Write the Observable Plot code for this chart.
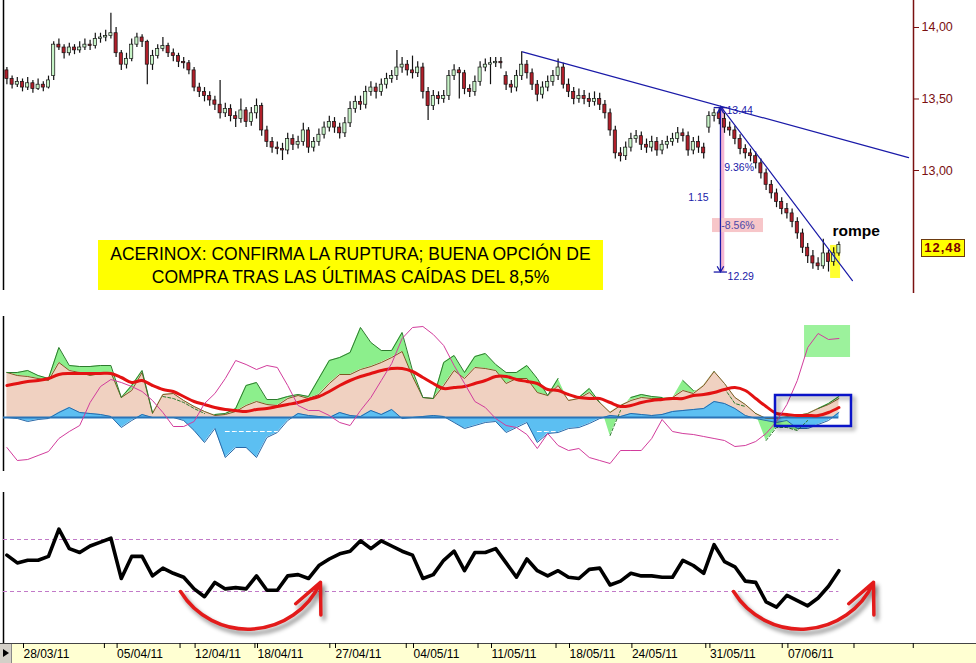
<!DOCTYPE html>
<html><head><meta charset="utf-8">
<script src="https://cdn.jsdelivr.net/npm/d3@7"></script>
<script src="https://cdn.jsdelivr.net/npm/@observablehq/plot@0.6"></script>
<style>
body{margin:0;background:#fff;font-family:"Liberation Sans",Arial,sans-serif}
#wrap{position:relative;width:976px;height:663px;overflow:hidden;background:#fff}
.panel{position:absolute;left:0}
#band{position:absolute;left:0;top:643px;width:976px;height:20px;background:#ffffd2;border-top:1px solid #444;box-sizing:border-box}
#btn{position:absolute;left:0;top:644px;width:11px;height:19px;background:#d4d0c8;border-right:1px solid #888}
#btn:after{content:"";position:absolute;left:3px;top:5px;border-left:6px solid #000;border-top:4px solid transparent;border-bottom:4px solid transparent}
#note{position:absolute;left:98px;top:240px;width:505px;height:50px;background:#ffff00;text-align:center;font-size:17.5px;line-height:23px;padding-top:3px;box-sizing:border-box;color:#000;white-space:nowrap}
#tag{position:absolute;left:921px;width:44px;height:18px;background:#ffff00;border:1px solid #6b3a10;box-sizing:border-box;font-weight:bold;font-size:13px;letter-spacing:1px;color:#7a0000;text-align:center;line-height:16px}
</style></head><body><div id="wrap"><div id="band"></div><div id="btn"></div></div>
<script>
// ---------- price candles (3 per trading day) ----------
const openP = [
13.70,13.64,13.60,13.62,13.58,13.61,13.57,13.60,13.58,13.66,
13.88,13.86,13.82,13.86,13.84,13.86,13.88,13.87,13.92,13.93,
13.94,13.96,13.82,13.74,13.78,13.88,13.93,13.90,13.74,13.80,
13.85,13.87,13.82,13.80,13.76,13.75,13.70,13.58,13.55,13.52,
13.49,13.46,13.40,13.43,13.38,13.36,13.42,13.34,13.40,13.45,
13.28,13.20,13.16,13.15,13.14,13.22,13.18,13.20,13.28,13.16,
13.20,13.25,13.30,13.34,13.30,13.26,13.33,13.43,13.48,13.46,
13.55,13.58,13.55,13.60,13.64,13.66,13.72,13.74,13.70,13.68,
13.72,13.55,13.45,13.52,13.50,13.52,13.66,13.70,13.68,13.57,
13.55,13.62,13.72,13.74,13.75,13.76,13.66,13.60,13.58,13.66,
13.74,13.68,13.60,13.53,13.58,13.62,13.66,13.72,13.60,13.55,
13.50,13.52,13.50,13.48,13.50,13.46,13.40,13.28,13.12,13.10,
13.16,13.22,13.24,13.18,13.16,13.20,13.14,13.18,13.20,13.22,
13.26,13.24,13.14,13.20,13.16,13.30,13.38,13.40,13.36,13.30,
13.28,13.22,13.15,13.12,13.10,13.05,12.98,12.90,12.84,12.78,
12.73,12.70,12.64,12.56,12.46,12.40,12.35,12.33,12.42,12.36,
12.42];
const highP = [
13.72,13.66,13.65,13.64,13.65,13.63,13.64,13.62,13.66,13.90,
13.92,13.88,13.89,13.88,13.90,13.92,13.91,13.96,13.96,13.98,
14.10,14.00,13.84,13.82,13.92,13.96,13.95,13.91,13.84,13.88,
13.93,13.89,13.85,13.82,13.79,13.77,13.72,13.61,13.58,13.55,
13.52,13.63,13.47,13.46,13.41,13.50,13.44,13.44,13.50,13.47,
13.31,13.23,13.20,13.19,13.26,13.25,13.24,13.33,13.30,13.23,
13.29,13.34,13.38,13.37,13.33,13.37,13.48,13.52,13.52,13.59,
13.62,13.61,13.64,13.68,13.70,13.84,13.79,13.77,13.80,13.76,
13.75,13.58,13.56,13.55,13.56,13.70,13.74,13.72,13.70,13.60,
13.66,13.76,13.78,13.79,13.79,13.79,13.69,13.63,13.70,13.83,
13.77,13.71,13.63,13.62,13.66,13.70,13.78,13.75,13.64,13.58,
13.57,13.56,13.54,13.55,13.54,13.49,13.43,13.31,13.16,13.20,
13.26,13.28,13.27,13.22,13.24,13.23,13.21,13.24,13.26,13.30,
13.29,13.27,13.23,13.24,13.19,13.41,13.43,13.44,13.40,13.34,
13.31,13.25,13.18,13.15,13.13,13.08,13.01,12.93,12.87,12.81,
12.77,12.73,12.67,12.59,12.49,12.44,12.39,12.52,12.44,12.46,
12.50];
const lowP = [
13.60,13.57,13.58,13.55,13.56,13.54,13.56,13.55,13.57,13.63,
13.84,13.78,13.80,13.81,13.82,13.84,13.84,13.85,13.89,13.90,
13.92,13.79,13.70,13.71,13.76,13.86,13.86,13.60,13.70,13.78,
13.83,13.79,13.76,13.72,13.71,13.67,13.55,13.51,13.48,13.45,
13.42,13.36,13.37,13.34,13.30,13.33,13.30,13.31,13.36,13.24,
13.16,13.12,13.11,13.07,13.11,13.14,13.15,13.17,13.12,13.13,
13.17,13.22,13.27,13.26,13.22,13.23,13.30,13.40,13.42,13.43,
13.52,13.50,13.52,13.57,13.61,13.63,13.68,13.66,13.64,13.65,
13.50,13.35,13.42,13.46,13.47,13.49,13.63,13.50,13.53,13.51,
13.52,13.59,13.69,13.60,13.72,13.71,13.56,13.54,13.55,13.63,
13.64,13.56,13.48,13.50,13.55,13.59,13.63,13.57,13.51,13.46,
13.47,13.46,13.44,13.45,13.42,13.36,13.24,13.08,13.06,13.07,
13.13,13.19,13.14,13.12,13.13,13.10,13.11,13.15,13.17,13.19,
13.20,13.10,13.11,13.12,13.08,13.26,13.34,13.32,13.26,13.24,
13.18,13.11,13.08,13.06,13.01,12.94,12.86,12.80,12.74,12.69,
12.66,12.60,12.52,12.42,12.35,12.31,12.30,12.31,12.29,12.33,
12.40];
const closeP = [
13.64,13.60,13.62,13.58,13.61,13.57,13.60,13.58,13.63,13.88,
13.86,13.82,13.86,13.84,13.86,13.88,13.87,13.92,13.93,13.94,
13.96,13.82,13.74,13.78,13.88,13.93,13.90,13.74,13.80,13.85,
13.87,13.82,13.80,13.76,13.75,13.70,13.58,13.55,13.52,13.49,
13.46,13.40,13.43,13.38,13.36,13.42,13.34,13.40,13.45,13.28,
13.20,13.16,13.15,13.14,13.22,13.18,13.20,13.28,13.16,13.20,
13.25,13.30,13.34,13.30,13.26,13.33,13.43,13.48,13.46,13.55,
13.58,13.55,13.60,13.64,13.66,13.72,13.74,13.70,13.68,13.72,
13.55,13.45,13.52,13.50,13.52,13.66,13.70,13.68,13.57,13.55,
13.62,13.72,13.74,13.75,13.76,13.75,13.60,13.58,13.66,13.74,
13.68,13.60,13.53,13.58,13.62,13.66,13.72,13.60,13.55,13.50,
13.52,13.50,13.48,13.50,13.46,13.40,13.28,13.12,13.10,13.16,
13.22,13.24,13.18,13.16,13.20,13.14,13.18,13.20,13.22,13.26,
13.24,13.14,13.20,13.16,13.12,13.38,13.40,13.36,13.30,13.28,
13.22,13.15,13.12,13.10,13.05,12.98,12.90,12.84,12.78,12.73,
12.70,12.64,12.56,12.46,12.40,12.35,12.33,12.42,12.36,12.42,
12.48];

// ---------- middle indicator (one sample every 2 candles) ----------
const oscMA = [32,34,36,37,39,43,44,44,44,44, 44,40,35,37,32,28,26,21,16,13, 10,8,7,6,8,9,11,13,15,18,
 21,26,32,37,41,44,47,49,49,46, 40,34,29,30,31,34,37,41,41,38, 36,34,28,27,23,20,19,19,15,11,
 12,15,17,18,19,19,22,23,25,28, 30,27,19,11,4,3,2,2,2,5, 10];
const oscBrown = [45,42,41,39,37,55,47,45,42,44, 45,20,27,45,4,23,24,17,11,6, 2,3,6,12,16,13,12,19,22,19,
 23,34,43,43,48,51,55,60,66,41, 20,19,32,47,39,50,49,47,34,39, 39,25,22,32,17,19,25,15,5,12,
 17,20,19,19,20,27,24,32,46,34, 20,13,4,-1,-1,1,2,4,9,13, 19];
const oscGreen = [45,45,47,42,39,70,52,51,51,52, 52,20,32,47,5,21,19,15,9,4, 3,4,9,32,35,18,18,21,23,21,
 39,57,60,65,90,75,67,67,85,47, 20,19,55,62,45,61,64,53,45,45, 52,39,22,39,16,20,29,15,-18,7,
 20,23,21,20,19,37,27,27,46,29, 14,11,4,-23,-10,-10,-13,-3,9,14, 21];
const oscBlue = [0,-1,-4,-2,-1,5,10,5,4,3, 1,-10,-3,3,0,0,0,-3,-13,-25, -11,-40,-30,-30,-40,-20,-15,-3,4,2,
 1,0,5,2,1,7,3,8,-1,0, 1,2,1,-5,-11,-8,-5,-4,-15,-10, -5,-25,-16,-15,-11,-10,-6,-1,2,1,
 4,3,2,3,6,7,8,9,16,14, 9,2,-1,-3,-5,-3,-11,-11,-7,-3, 5];
const oscMagenta = [-30,-43,-42,-38,-34,-21,-14,-8,15,31, 38,35,31,26,17,5,-9,-9,-4,14, 24,39,57,53,48,52,50,32,12,7,
 7,2,-5,-8,7,20,37,54,79,90, 91,83,72,52,34,16,10,-1,-8,-10, -17,-31,-16,-28,-33,-31,-40,-43,-46,-33,
 -33,-33,-21,-2,-14,-16,-17,-19,-21,-23, -29,-28,-24,-16,-4,13,37,70,84,78, 79];

// ---------- bottom oscillator ----------
const rsi = [58,52,54,54,57,78,63,60,65,68, 71,40,57,57,42,48,44,41,32,26, 37,32,33,32,42,31,31,42,43,40,
 50,55,59,61,69,63,69,65,61,58, 40,43,54,61,46,60,60,63,52,41, 55,46,42,46,41,40,47,48,35,38,
 44,42,42,41,41,54,50,44,66,53, 49,38,37,22,18,27,23,19,25,34, 46];
const rsiLevels = [30, 70];

// ---------- axes ----------
const tickDays = [0,6,11,15,20,25,30,35,39,44,49];
const tickLabels = ["28/03/11","05/04/11","12/04/11","18/04/11","27/04/11","04/05/11","11/05/11","18/05/11","24/05/11","31/05/11","07/06/11"];
const minorTickDays = [5.25,10.1,14.9,19.7,24.6,29.2,34.2,43.8,48.7,53.3,57.1];
const priceTicks = [13, 13.5, 14];

// ---------- annotations (data units: trading day, price / indicator value) ----------
const trendLines = [
  [{t:32.05,p:13.83},{t:56.8,p:13.09}],
  [{t:44.74,p:13.45},{t:53.2,p:12.23}]
];
const ruler = {t:44.74, top:13.44, bottom:12.29};
const rulerLabelsStart = [
  {t:45.13,p:13.42,s:"13.44"},
  {t:45.2,p:12.26,s:"12.29"},
  {t:44.98,p:13.02,s:"9.36%"}
];
const rulerLabelsMid = [{t:43.33,p:12.81,s:"1.15"}];
const pctBox = {t1:44.23,t2:47.5,p1:12.566,p2:12.664,s:"-8.56%"};
const breakHighlight = {t1:51.8,t2:52.44,p1:12.245,p2:12.476};
const breakLabel = {t:51.92,p:12.58,s:"rompe"};
const blueBox = {t1:48.27,t2:53.14,v1:-9,v2:22};
const greenBox = {t1:50.13,t2:53.08,v1:60,v2:92};
const arcs = [{t1:10.13,r1:30,t2:19.1,r2:37},{t1:45.58,r1:30,t2:54.55,r2:37}];

// ---------- scales ----------
const xDomain = [-1.218, 57.115];
const W = 976, ML = 3, MR = 63;
const ct = j => -1 + j/3;        // candle -> day
const kt = k => -1 + 2*k/3;      // indicator sample -> day
const idx = d3.range(closeP.length);
const kIdx = d3.range(oscMA.length);
const lastT = kt(kIdx.length - 1);
const baseStyle = {background:"transparent", overflow:"visible", fontFamily:"Liberation Sans, Arial, sans-serif"};
const blue = "#1a1aa8";

const topPlot = Plot.plot({
  width:W, height:296, marginTop:0, marginBottom:0, marginLeft:ML, marginRight:MR,
  style: baseStyle, color:{type:"identity"},
  x:{domain:xDomain, axis:null},
  y:{domain:[12.1189, 14.1888], axis:null},
  marks:[
    Plot.ruleX([xDomain[0]], {stroke:"#000", strokeWidth:1.5, insetBottom:6}),
    Plot.ruleX([xDomain[1]], {stroke:"#7a1010", strokeWidth:1.5, insetBottom:3}),
    Plot.axisY({anchor:"right", ticks:priceTicks, tickFormat:d=>d.toFixed(2).replace(".",","), tickSize:5, tickPadding:3, fontSize:12.5, color:"#7a1010"}),
    Plot.rect([breakHighlight], {x1:"t1", x2:"t2", y1:"p1", y2:"p2", fill:"#ffff30"}),
    Plot.ruleX([ruler], {x:d=>d.t+0.12, y1:"bottom", y2:"top", stroke:"#f5b6d2", strokeWidth:4}),
    Plot.rect([pctBox], {x1:"t1", x2:"t2", y1:"p1", y2:"p2", fill:"#f7c6c9"}),
    Plot.ruleX(idx, {x:ct, y1:j=>lowP[j], y2:j=>highP[j], stroke:"#111", strokeWidth:1.2}),
    Plot.rect(idx, {x1:j=>ct(j)-0.1, x2:j=>ct(j)+0.1, y1:j=>openP[j], y2:j=>closeP[j],
      fill:j=>closeP[j]>=openP[j] ? "#c6f3c6" : "#b01f2a", stroke:"#111", strokeWidth:0.7}),
    ...trendLines.map(L => Plot.line(L, {x:"t", y:"p", stroke:blue, strokeWidth:1.2})),
    Plot.arrow([ruler], {x1:"t", x2:"t", y1:d=>(d.top+d.bottom)/2, y2:"top", stroke:blue, strokeWidth:1.3, headLength:7}),
    Plot.arrow([ruler], {x1:"t", x2:"t", y1:d=>(d.top+d.bottom)/2, y2:"bottom", stroke:blue, strokeWidth:1.3, headLength:7}),
    Plot.ruleY([ruler.top, ruler.bottom], {x1:ruler.t-0.4, x2:ruler.t+0.45, stroke:blue, strokeWidth:1.3}),
    Plot.text(rulerLabelsStart, {x:"t", y:"p", text:"s", textAnchor:"start", fill:blue, fontSize:10.5}),
    Plot.text(rulerLabelsMid, {x:"t", y:"p", text:"s", textAnchor:"middle", fill:blue, fontSize:10.5}),
    Plot.text([pctBox], {x:d=>(d.t1+d.t2)/2, y:d=>(d.p1+d.p2)/2, text:"s", fill:"#4a48a8", fontSize:10.5}),
    Plot.text([breakLabel], {x:"t", y:"p", text:"s", textAnchor:"start", fill:"#000", fontSize:15.5, fontWeight:"bold"})
  ]
});

const midPlot = Plot.plot({
  width:W, height:180, marginTop:0, marginBottom:0, marginLeft:ML, marginRight:MR,
  style: baseStyle,
  x:{domain:xDomain, axis:null},
  y:{domain:[-63, 117], axis:null},
  marks:[
    Plot.ruleX([xDomain[0]], {stroke:"#000", strokeWidth:1.5, insetTop:16, insetBottom:9}),
    Plot.rect([greenBox], {x1:"t1", x2:"t2", y1:"v1", y2:"v2", fill:"#9cf29c"}),
    Plot.areaY(kIdx, {x:kt, y1:k=>oscBrown[k], y2:k=>oscGreen[k], fill:"#8cef8c"}),
    Plot.areaY(kIdx, {x:kt, y1:0, y2:k=>oscBrown[k], fill:"#f0d1c1"}),
    Plot.areaY(kIdx, {x:kt, y1:0, y2:k=>oscBlue[k], fill:"#5cbff2"}),
    Plot.lineY(kIdx, {x:kt, y:k=>oscBlue[k], stroke:"#2868a8", strokeWidth:1}),
    Plot.lineY(kIdx, {x:kt, y:k=>oscBlue[k] < -14 ? -14 : NaN, stroke:"#fff", strokeWidth:1, strokeDasharray:"4,3"}),
    Plot.lineY(kIdx, {x:kt, y:k=>oscBrown[k], stroke:"#7b5a22", strokeWidth:1}),
    Plot.lineY(kIdx, {x:kt, y:k=>oscGreen[k] >= oscBrown[k] ? oscGreen[k] : NaN, stroke:"#2d7a2d", strokeWidth:1}),
    Plot.lineY(kIdx, {x:kt, y:k=>oscGreen[k] < oscBrown[k] ? oscGreen[k] : NaN, stroke:"#2d7a2d", strokeWidth:1, strokeDasharray:"3,2"}),
    Plot.ruleY([0], {x1:xDomain[0], x2:lastT, stroke:"#2a74b8", strokeWidth:2}),
    Plot.lineY(kIdx, {x:kt, y:k=>oscMA[k], stroke:"#e31212", strokeWidth:3, curve:"catmull-rom"}),
    Plot.lineY(kIdx, {x:kt, y:k=>oscMagenta[k], stroke:"#d23c9c", strokeWidth:1}),
    Plot.rect([blueBox], {x1:"t1", x2:"t2", y1:"v1", y2:"v2", fill:"none", stroke:"#0a14c8", strokeWidth:2.5})
  ]
});

const botPlot = Plot.plot({
  width:W, height:183, marginTop:0, marginBottom:20, marginLeft:ML, marginRight:MR,
  style: baseStyle,
  x:{domain:xDomain, axis:null},
  y:{domain:[-10, 115.4], axis:null},
  marks:[
    Plot.ruleX([xDomain[0]], {stroke:"#000", strokeWidth:1.5, insetTop:12}),
    Plot.ruleY(rsiLevels, {x1:xDomain[0], x2:lastT, stroke:"#c27ac8", strokeWidth:1, strokeDasharray:"4,3"}),
    Plot.lineY(kIdx, {x:kt, y:k=>rsi[k], stroke:"#000", strokeWidth:3.6, strokeLinejoin:"round"}),
    Plot.arrow(arcs, {x1:"t1", y1:"r1", x2:"t2", y2:"r2", bend:-62, stroke:"#e31b1b", strokeWidth:3.5, headLength:14, headAngle:50}),
    Plot.axisX({anchor:"bottom", ticks:minorTickDays, tickFormat:()=>"", tickSize:5, color:"#000"}),
    Plot.axisX({anchor:"bottom", ticks:tickDays, tickFormat:d=>tickLabels[tickDays.indexOf(d)], tickSize:5, tickPadding:1, textAnchor:"start", dx:1, fontSize:12, color:"#000"})
  ]
});

const wrap = document.getElementById("wrap");
[[topPlot,0],[midPlot,300],[botPlot,480]].forEach(([p,t]) => {
  p.classList.add("panel"); p.style.top = t + "px"; p.style.position = "absolute"; p.style.left = "0px";
  wrap.appendChild(p);
});
// shadows for hand-drawn annotations
d3.select(botPlot).selectAll('g[aria-label="arrow"]').style("filter","drop-shadow(3px 4px 2px rgba(0,0,0,0.45))");
d3.select(midPlot).selectAll('g[stroke="#0a14c8"]').style("filter","drop-shadow(3px 3px 2px rgba(0,0,0,0.4))");

// headline note
const note = document.createElement("div");
note.id = "note";
note.innerHTML = "ACERINOX: CONFIRMA LA RUPTURA; BUENA OPCIÓN DE<br>COMPRA TRAS LAS ÚLTIMAS CAÍDAS DEL 8,5%";
wrap.appendChild(note);

// last price tag
const lastClose = closeP[closeP.length - 1];
const tag = document.createElement("div");
tag.id = "tag";
tag.textContent = lastClose.toFixed(2).replace(".", ",");
tag.style.top = (topPlot.scale("y").apply(lastClose) - 5) + "px";
wrap.appendChild(tag);
</script></body></html>
